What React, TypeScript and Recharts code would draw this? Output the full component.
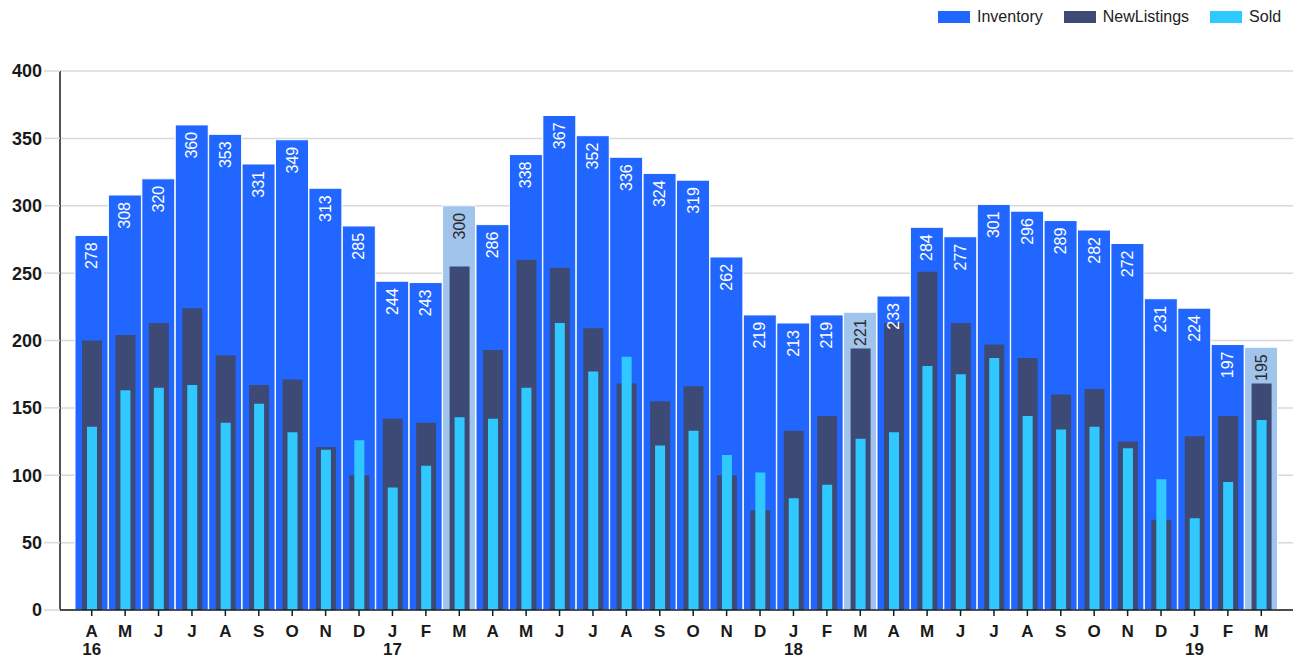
import React from "react";
import { BarChart, Bar, XAxis, YAxis, CartesianGrid, Cell, LabelList } from "recharts";

const monthLabels = [
  "A", "M", "J", "J", "A", "S", "O", "N", "D", "J", "F", "M",
  "A", "M", "J", "J", "A", "S", "O", "N", "D", "J", "F", "M",
  "A", "M", "J", "J", "A", "S", "O", "N", "D", "J", "F", "M",
];
const yearLabels = [
  "16", "", "", "", "", "", "", "", "", "17", "", "",
  "", "", "", "", "", "", "", "", "", "18", "", "",
  "", "", "", "", "", "", "", "", "", "19", "", "",
];
const inventory = [
  278, 308, 320, 360, 353, 331, 349, 313, 285, 244, 243, 300,
  286, 338, 367, 352, 336, 324, 319, 262, 219, 213, 219, 221,
  233, 284, 277, 301, 296, 289, 282, 272, 231, 224, 197, 195,
];
const newListings = [
  200, 204, 213, 224, 189, 167, 171, 121, 100, 142, 139, 255,
  193, 260, 254, 209, 168, 155, 166, 100, 74, 133, 144, 194,
  213, 251, 213, 197, 187, 160, 164, 125, 67, 129, 144, 168,
];
const sold = [
  136, 163, 165, 167, 139, 153, 132, 119, 126, 91, 107, 143,
  142, 165, 213, 177, 188, 122, 133, 115, 102, 83, 93, 127,
  132, 181, 175, 187, 144, 134, 136, 120, 97, 68, 95, 141,
];
// March bars are drawn in the pale colour
const highlighted = [11, 23, 35];
const yTicks = [0, 50, 100, 150, 200, 250, 300, 350, 400];

const C_INV = "#2167ff";
const C_INV_HL = "#a0c4ec";
const C_NEW = "#3c4a75";
const C_SOLD = "#30c9ff";

const legendItems = [
  { name: "Inventory", color: C_INV },
  { name: "NewListings", color: C_NEW },
  { name: "Sold", color: C_SOLD },
];

const data = monthLabels.map((m, i) => ({
  id: String(i),
  month: m,
  year: yearLabels[i],
  inventory: inventory[i],
  newListings: newListings[i],
  sold: sold[i],
}));

const MonthTick = (props: any) => {
  const { x, y, payload } = props;
  const i = Number(payload.value);
  return (
    <g>
      <text x={x} y={y} dy={19} textAnchor="middle" fontSize={17} fontWeight={700} fill="#1a1a1a">
        {monthLabels[i]}
      </text>
      {yearLabels[i] ? (
        <text x={x} y={y} dy={37} textAnchor="middle" fontSize={17} fontWeight={700} fill="#1a1a1a">
          {yearLabels[i]}
        </text>
      ) : null}
    </g>
  );
};

const InvLabel = (props: any) => {
  const { x, y, width, value, index } = props;
  const hl = highlighted.includes(index);
  return (
    <text
      x={0}
      y={0}
      transform={`translate(${Number(x) + Number(width) / 2},${Number(y) + 7}) rotate(-90)`}
      textAnchor="end"
      dominantBaseline="central"
      fontSize={16}
      fill={hl ? "#2a2a2a" : "#ffffff"}
    >
      {value}
    </text>
  );
};

export default function App() {
  const pad = { left: 15, right: 15 };
  return (
    <div style={{ position: "absolute", left: 0, top: 0, width: 1297, height: 660, fontFamily: "Arial, 'Liberation Sans', sans-serif", background: "#fff" }}>
      <BarChart
        width={1297}
        height={660}
        data={data}
        margin={{ top: 71, right: 4, bottom: 5, left: 0 }}
        barCategoryGap={0}
      >
        <CartesianGrid vertical={false} stroke="#d9d9d9" strokeWidth={1.5} xAxisId="inv" />
        <XAxis
          xAxisId="inv"
          dataKey="id"
          height={45}
          interval={0}
          padding={pad}
          tick={<MonthTick />}
          tickLine={{ stroke: "#1a1a1a", strokeWidth: 1.5 }}
          axisLine={{ stroke: "#1a1a1a", strokeWidth: 1.5 }}
        />
        <XAxis xAxisId="nl" dataKey="id" hide padding={pad} />
        <XAxis xAxisId="sold" dataKey="id" hide padding={pad} />
        <YAxis
          width={60}
          domain={[0, 400]}
          ticks={yTicks}
          tickSize={16}
          tickMargin={2}
          tickLine={{ stroke: "#d9d9d9", strokeWidth: 1.5 }}
          axisLine={{ stroke: "#1a1a1a", strokeWidth: 1.5 }}
          tick={{ fontSize: 18, fontWeight: 700, fill: "#1a1a1a" }}
        />
        <Bar xAxisId="inv" dataKey="inventory" name="Inventory" barSize={33} stroke="#ffffff" strokeWidth={1} isAnimationActive={false}>
          {data.map((_, i) => (
            <Cell key={i} fill={highlighted.includes(i) ? C_INV_HL : C_INV} />
          ))}
          <LabelList dataKey="inventory" content={<InvLabel />} />
        </Bar>
        <Bar xAxisId="nl" dataKey="newListings" name="NewListings" barSize={20} fill={C_NEW} isAnimationActive={false} />
        <Bar xAxisId="sold" dataKey="sold" name="Sold" barSize={10} fill={C_SOLD} isAnimationActive={false} />
      </BarChart>
      <div style={{ position: "absolute", left: 938, top: 8, display: "flex", alignItems: "center", fontSize: 16, color: "#222" }}>
        {legendItems.map((it) => (
          <div key={it.name} style={{ display: "flex", alignItems: "center", marginRight: 21 }}>
            <span style={{ display: "inline-block", width: 32, height: 12, background: it.color }} />
            <span style={{ marginLeft: 7, lineHeight: "18px" }}>{it.name}</span>
          </div>
        ))}
      </div>
    </div>
  );
}
